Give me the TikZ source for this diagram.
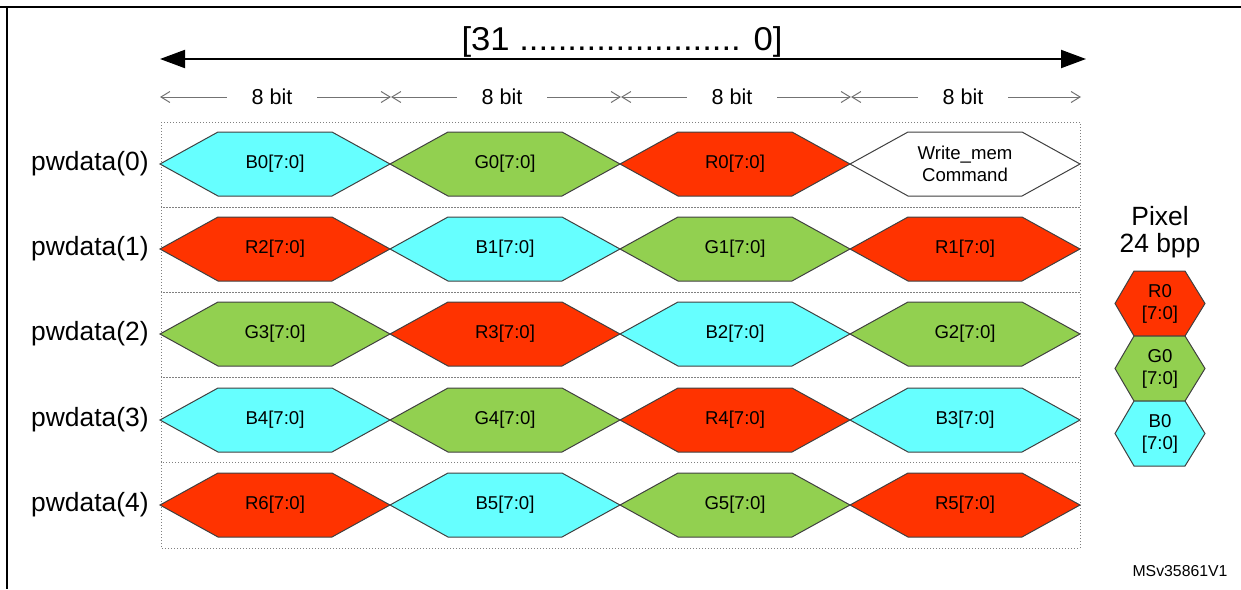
\documentclass[tikz,border=0pt]{standalone}
\usepackage{fontspec}
\setmainfont{Liberation Sans}
\usetikzlibrary{arrows.meta}

\definecolor{bytecyan}{RGB}{102,255,255}
\definecolor{bytegreen}{RGB}{146,208,80}
\definecolor{bytered}{RGB}{255,51,0}

\tikzset{
  bytecell/.style={draw=black!75, line width=0.5pt},
  bytetext/.style={font=\fontsize{9.3}{11}\selectfont, align=center, inner sep=0pt},
  rowbox/.style={draw=gray, densely dotted, line width=0.5pt},
  rowname/.style={font=\fontsize{13.2}{15}\selectfont, anchor=east, inner sep=0pt},
  bitlabel/.style={font=\fontsize{10.8}{13}\selectfont, minimum width=45pt, inner sep=0pt},
  bitarrow/.style={draw=black!55, line width=0.5pt, -{Straight Barb[length=4.5pt,width=5.5pt]}},
}

% byte cell in a row: name, x, y, colour, text
\newcommand{\bytecell}[5]{%
  \filldraw[bytecell, fill=#4] (#2-115,#3) -- (#2-57,#3-32) -- (#2+57,#3-32)
    -- (#2+115,#3) -- (#2+57,#3+32) -- (#2-57,#3+32) -- cycle;
  \node[bytetext] (#1) at (#2,#3) {#5};}

% pixel cell of the legend: name, y, colour, text
\newcommand{\pixcell}[4]{%
  \filldraw[bytecell, fill=#3] (1115,#2) -- (1134,#2-32.5) -- (1185,#2-32.5)
    -- (1205,#2) -- (1185,#2+32.5) -- (1134,#2+32.5) -- cycle;
  \node[bytetext] (#1) at (1160,#2) {#4};}

\begin{document}
\begin{tikzpicture}[x=0.5pt, y=-0.5pt]
\useasboundingbox (0,0) rectangle (1241,589);
\draw[line width=1pt] (0,7) -- (1241,7);
\draw[line width=0.8pt] (7,7) -- (7,589);

% word width
\coordinate (msb) at (160,59);
\coordinate (lsb) at (1086,59);
\draw[line width=1pt, arrows={Triangle[length=12.5pt,width=9pt]-Triangle[length=12.5pt,width=9pt]}] (msb) -- (lsb);
\node[font=\fontsize{16.5}{20}\selectfont, anchor=base, inner sep=0pt] (range) at (622,50) {\scalebox{1.05}[1]{[31 ....................... 0]}};

% byte widths
\coordinate (b0) at (160,97);
\coordinate (b1) at (391,97);
\coordinate (b2) at (621,97);
\coordinate (b3) at (851,97);
\coordinate (b4) at (1081,97);
\node[bitlabel] (bitA) at (272,97) {8 bit};
\node[bitlabel] (bitB) at (502,97) {8 bit};
\node[bitlabel] (bitC) at (732,97) {8 bit};
\node[bitlabel] (bitD) at (963,97) {8 bit};
\draw[bitarrow] (bitA.west) -- (b0);
\draw[bitarrow] (bitA.east) -- (b1);
\draw[bitarrow] (bitB.west) -- (b1);
\draw[bitarrow] (bitB.east) -- (b2);
\draw[bitarrow] (bitC.west) -- (b2);
\draw[bitarrow] (bitC.east) -- (b3);
\draw[bitarrow] (bitD.west) -- (b3);
\draw[bitarrow] (bitD.east) -- (b4);

% rows
\draw[rowbox] (161,122) rectangle (1080,207);
\draw[rowbox] (161,207) rectangle (1080,292);
\draw[rowbox] (161,292) rectangle (1080,377);
\draw[rowbox] (161,377) rectangle (1080,462);
\draw[rowbox] (161,462) rectangle (1080,548);
\node[rowname] (row0) at (149,164) {pwdata(0)};
\node[rowname] (row1) at (149,249) {pwdata(1)};
\node[rowname] (row2) at (149,334) {pwdata(2)};
\node[rowname] (row3) at (149,420) {pwdata(3)};
\node[rowname] (row4) at (149,505) {pwdata(4)};

\bytecell{b0c}{275}{164}{bytecyan}{B0[7:0]}
\bytecell{g0c}{505}{164}{bytegreen}{G0[7:0]}
\bytecell{r0c}{735}{164}{bytered}{R0[7:0]}
\bytecell{cmd}{965}{164}{white}{Write\_mem\\Command}

\bytecell{r2c}{275}{249}{bytered}{R2[7:0]}
\bytecell{b1c}{505}{249}{bytecyan}{B1[7:0]}
\bytecell{g1c}{735}{249}{bytegreen}{G1[7:0]}
\bytecell{r1c}{965}{249}{bytered}{R1[7:0]}

\bytecell{g3c}{275}{334}{bytegreen}{G3[7:0]}
\bytecell{r3c}{505}{334}{bytered}{R3[7:0]}
\bytecell{b2c}{735}{334}{bytecyan}{B2[7:0]}
\bytecell{g2c}{965}{334}{bytegreen}{G2[7:0]}

\bytecell{b4c}{275}{420}{bytecyan}{B4[7:0]}
\bytecell{g4c}{505}{420}{bytegreen}{G4[7:0]}
\bytecell{r4c}{735}{420}{bytered}{R4[7:0]}
\bytecell{b3c}{965}{420}{bytecyan}{B3[7:0]}

\bytecell{r6c}{275}{505}{bytered}{R6[7:0]}
\bytecell{b5c}{505}{505}{bytecyan}{B5[7:0]}
\bytecell{g5c}{735}{505}{bytegreen}{G5[7:0]}
\bytecell{r5c}{965}{505}{bytered}{R5[7:0]}

% legend
\node[font=\fontsize{13.2}{15}\selectfont, anchor=base] (pix) at (1160,225) {Pixel};
\node[font=\fontsize{13.2}{15}\selectfont, anchor=base] (bpp) at (1160,252) {24 bpp};
\pixcell{lr}{303.5}{bytered}{R0\\{[7:0]}}
\pixcell{lg}{368.5}{bytegreen}{G0\\{[7:0]}}
\pixcell{lb}{433.5}{bytecyan}{B0\\{[7:0]}}

\node[font=\fontsize{7.9}{9}\selectfont] (ref) at (1180,571) {MSv35861V1};
\end{tikzpicture}
\end{document}
